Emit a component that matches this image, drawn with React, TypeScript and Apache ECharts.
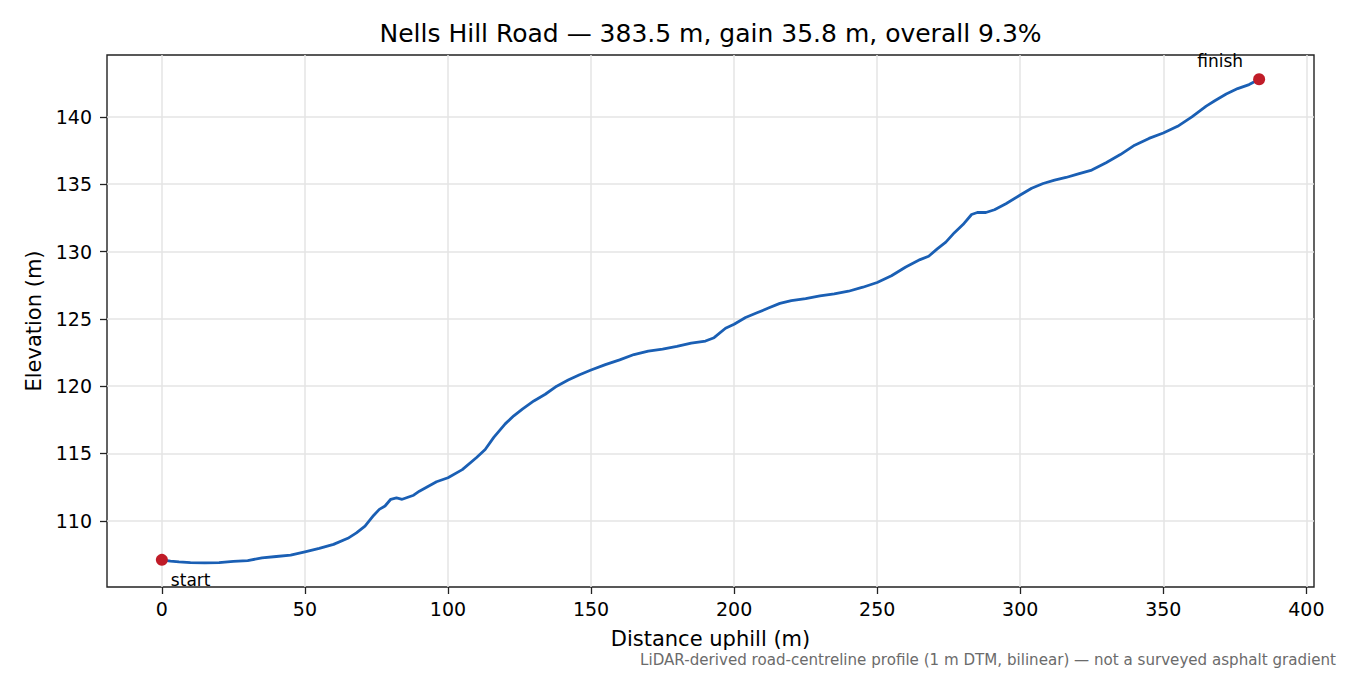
import { useEffect, useRef } from 'react';
import * as echarts from 'echarts';

// distance along the road (m) and sampled elevation (m)
const distance = [
  0, 3, 6, 10, 15, 20, 25, 30, 35, 40, 45, 50, 55, 60, 65, 68, 71, 74, 76, 78,
  80, 82, 84, 86, 88, 90, 93, 96, 100, 105, 110, 113, 116, 120, 123, 126, 130, 134, 138, 142,
  146, 150, 155, 160, 165, 170, 175, 180, 185, 190, 193, 197, 200, 204, 208, 212, 216, 220, 225, 230,
  235, 240, 245, 250, 255, 260, 265, 268, 271, 274, 277, 280, 283, 285, 288, 291, 295, 300, 304, 308,
  312, 316, 320, 325, 330, 335, 340, 345, 350, 355, 360, 365, 368, 372, 376, 380, 383.5,
];
const elevation = [
  107.1, 107.0, 106.95, 106.9, 106.88, 106.9, 106.98, 107.05, 107.25, 107.35, 107.45, 107.7, 107.95, 108.25, 108.7, 109.1, 109.6, 110.4, 110.85, 111.1,
  111.6, 111.7, 111.6, 111.75, 111.9, 112.2, 112.55, 112.9, 113.2, 113.8, 114.7, 115.3, 116.2, 117.2, 117.8, 118.3, 118.9, 119.4, 120.0, 120.45,
  120.85, 121.2, 121.6, 121.95, 122.35, 122.6, 122.75, 122.95, 123.2, 123.35, 123.6, 124.3, 124.6, 125.1, 125.45, 125.8, 126.15, 126.35, 126.5, 126.7,
  126.85, 127.05, 127.35, 127.7, 128.2, 128.85, 129.4, 129.65, 130.2, 130.7, 131.4, 132.0, 132.75, 132.9, 132.9, 133.1, 133.55, 134.2, 134.7, 135.05,
  135.3, 135.5, 135.75, 136.05, 136.6, 137.2, 137.9, 138.4, 138.8, 139.3, 140.0, 140.8, 141.2, 141.7, 142.1, 142.4, 142.8,
];

const xTicks = [0, 50, 100, 150, 200, 250, 300, 350, 400];
const yTicks = [110, 115, 120, 125, 130, 135, 140];
const endLabels = ['start', 'finish'];

const titleText = 'Nells Hill Road — 383.5 m, gain 35.8 m, overall 9.3%';
const footnote = 'LiDAR-derived road-centreline profile (1 m DTM, bilinear) — not a surveyed asphalt gradient';

const FONT = 'DejaVu Sans';
const AXIS_COLOR = '#222222';

export default function App() {
  const chartRef = useRef<HTMLDivElement>(null);

  useEffect(() => {
    if (!chartRef.current) return;
    const chart = echarts.init(chartRef.current, undefined, { renderer: 'svg' });

    const lineData = distance.map((d, i) => [d, elevation[i]]);
    const last = distance.length - 1;

    // matplotlib-like 5% margins around the data
    const xSpan = distance[last] - distance[0];
    const yMin = Math.min(...elevation);
    const yMax = Math.max(...elevation);
    const ySpan = yMax - yMin;

    const option: echarts.EChartsOption = {
      animation: false,
      backgroundColor: '#ffffff',
      textStyle: { fontFamily: FONT },
      grid: {
        left: 107,
        right: 36,
        top: 55,
        bottom: 88,
        show: true,
        borderColor: AXIS_COLOR,
        borderWidth: 1.4,
        backgroundColor: 'transparent',
      },
      xAxis: {
        type: 'value',
        min: distance[0] - xSpan * 0.05,
        max: distance[last] + xSpan * 0.05,
        name: 'Distance uphill (m)',
        nameLocation: 'middle',
        nameGap: 41,
        nameTextStyle: { fontFamily: FONT, fontSize: 21, color: '#000' },
        axisLine: { show: false, onZero: false },
        axisTick: {
          show: true,
          length: 7,
          lineStyle: { color: AXIS_COLOR, width: 1.3 },
          customValues: xTicks,
        },
        axisLabel: {
          fontFamily: FONT,
          fontSize: 19,
          color: '#000',
          margin: 12,
          customValues: xTicks,
        },
        splitLine: { show: true, lineStyle: { color: '#e4e4e4', width: 1.5 } },
      },
      yAxis: {
        type: 'value',
        min: yMin - ySpan * 0.05,
        max: yMax + ySpan * 0.05,
        name: 'Elevation (m)',
        nameLocation: 'middle',
        nameGap: 63,
        nameTextStyle: { fontFamily: FONT, fontSize: 21, color: '#000' },
        axisLine: { show: false, onZero: false },
        axisTick: {
          show: true,
          length: 7,
          lineStyle: { color: AXIS_COLOR, width: 1.3 },
          customValues: yTicks,
        },
        axisLabel: {
          fontFamily: FONT,
          fontSize: 19,
          color: '#000',
          margin: 15,
          customValues: yTicks,
        },
        splitLine: { show: true, lineStyle: { color: '#e4e4e4', width: 1.5 } },
      },
      series: [
        {
          type: 'line',
          data: lineData,
          showSymbol: false,
          lineStyle: { color: '#1a5fb4', width: 2.8 },
          z: 2,
        },
        {
          type: 'scatter',
          symbolSize: 12,
          itemStyle: { color: '#c01c28', opacity: 1 },
          z: 3,
          data: [
            {
              value: [distance[0], elevation[0]],
              label: {
                show: true,
                formatter: endLabels[0],
                position: 'inside',
                align: 'left',
                verticalAlign: 'middle',
                offset: [9, 20],
                fontFamily: FONT,
                fontSize: 17,
                color: '#000',
              },
            },
            {
              value: [distance[last], elevation[last]],
              label: {
                show: true,
                formatter: endLabels[1],
                position: 'inside',
                align: 'center',
                verticalAlign: 'middle',
                offset: [-39, -18],
                fontFamily: FONT,
                fontSize: 17,
                color: '#000',
              },
            },
          ],
        },
      ],
      graphic: [
        {
          type: 'text',
          x: 710.5,
          y: 33,
          style: {
            text: titleText,
            fontFamily: FONT,
            fontSize: 25,
            fill: '#000',
            align: 'center',
            verticalAlign: 'middle',
          },
        },
        {
          type: 'text',
          x: 1336,
          y: 660,
          style: {
            text: footnote,
            fontFamily: FONT,
            fontSize: 15.1,
            fill: '#6b6b6b',
            align: 'right',
            verticalAlign: 'middle',
          },
        },
      ],
    };

    chart.setOption(option);

    return () => {
      chart.dispose();
    };
  }, []);

  return (
    <div
      ref={chartRef}
      style={{ position: 'fixed', left: 0, top: 0, width: '1350px', height: '675px' }}
    />
  );
}
